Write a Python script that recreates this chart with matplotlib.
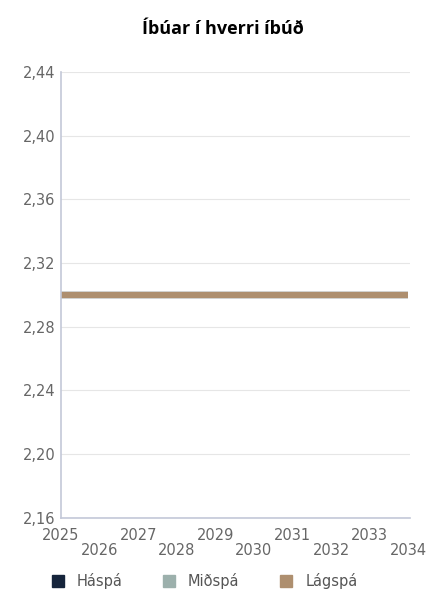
import matplotlib.pyplot as plt
from matplotlib.lines import Line2D

years = list(range(2025, 2035))
haspa = [2.30] * 10
midspa = [2.30] * 10
lagspa = [2.30] * 10
yticks = [2.16, 2.20, 2.24, 2.28, 2.32, 2.36, 2.40, 2.44]
names = ["Háspá", "Miðspá", "Lágspá"]
colors = ["#15243b", "#9cb0ac", "#ae8f6f"]

plt.rcParams['font.family'] = ['DejaVu Sans']

fig = plt.figure(figsize=(4.45, 6), dpi=100)
ax = fig.add_axes([0.137, 0.137, 0.785, 0.743])

for vals, c in zip([haspa, midspa, lagspa], colors):
    ax.plot(years, vals, color=c, lw=4.5, solid_capstyle='butt')

ax.set_xlim(2025, 2034.05)
ax.set_ylim(2.16, 2.44)
ax.set_yticks(yticks)
ax.set_yticklabels([f"{v:.2f}".replace(".", ",") for v in yticks])
ax.set_xticks(years)
ax.set_xticklabels([str(y) if i % 2 == 0 else "\n" + str(y) for i, y in enumerate(years)],
                   linespacing=1.05)
ax.tick_params(length=0, labelsize=10.5, labelcolor="#666666")
ax.tick_params(axis='x', pad=7)
ax.tick_params(axis='y', pad=4)
ax.grid(axis='y', color="#e6e6e6", lw=0.8)
ax.set_axisbelow(True)
for s in ['top', 'right']:
    ax.spines[s].set_visible(False)
for s in ['left', 'bottom']:
    ax.spines[s].set_color("#c3c8d8")
    ax.spines[s].set_linewidth(1.2)

fig.text(0.5, 0.952, "Íbúar í hverri íbúð", ha='center', va='center',
         fontsize=13, fontweight='bold', family=['Open Sans', 'DejaVu Sans'])

handles = [Line2D([], [], marker='s', ls='', color=c, markersize=9) for c in colors]
fig.legend(handles, names, loc='center', bbox_to_anchor=(0.45, 0.032), ncol=3,
           frameon=False, fontsize=10.5, labelcolor="#555555",
           handletextpad=0.3, columnspacing=2.2)

fig.savefig("out.png", dpi=100)
